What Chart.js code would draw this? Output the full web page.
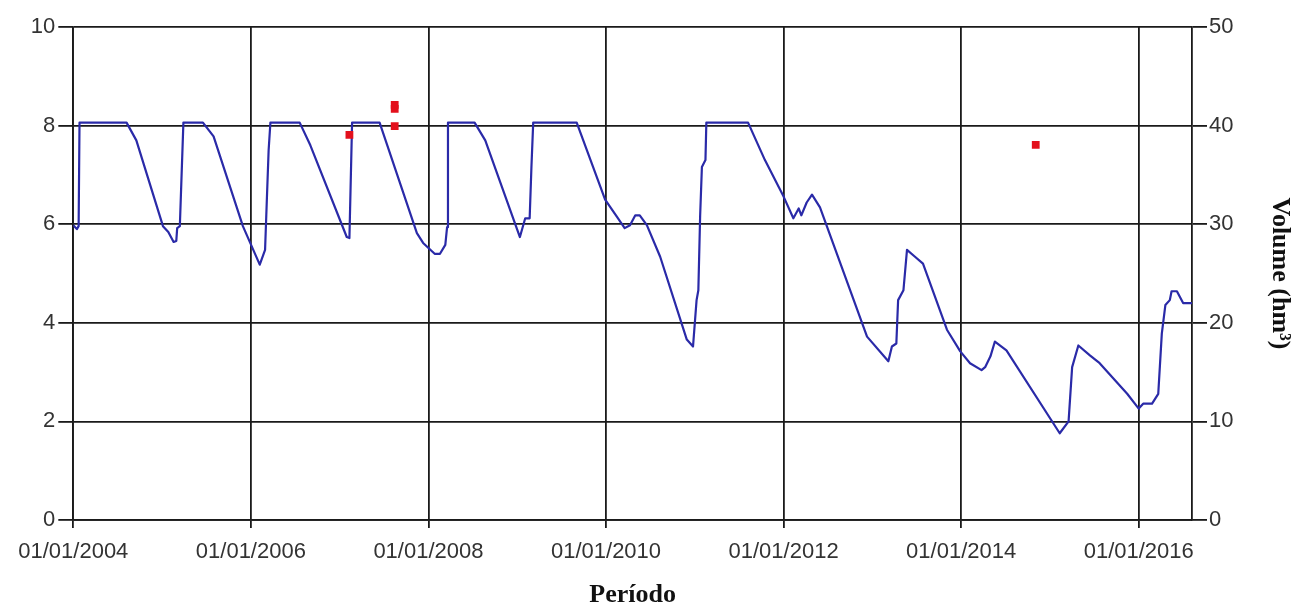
<!DOCTYPE html>
<html>
<head>
<meta charset="utf-8">
<script src="https://cdn.jsdelivr.net/npm/chart.js@4"></script>
<style>
  html, body { margin: 0; padding: 0; background: #fff; }
  #wrap { width: 1297px; height: 610px; }
</style>
</head>
<body>
<div id="wrap"><canvas id="grafico"></canvas></div>
<script>
// Período em anos decimais (2004.50 = meio de 2004)
var periodo = [
  2004.00, 2004.04, 2004.06, 2004.07, 2004.60, 2004.71, 2005.01, 2005.07, 2005.13, 2005.16,
  2005.17, 2005.20, 2005.24, 2005.46, 2005.58, 2005.91, 2006.10, 2006.16, 2006.18, 2006.20,
  2006.22, 2006.55, 2006.67, 2007.08, 2007.11, 2007.14, 2007.45, 2007.87, 2007.94, 2008.07,
  2008.13, 2008.19, 2008.21, 2008.22, 2008.52, 2008.64, 2009.03, 2009.09, 2009.14, 2009.16,
  2009.18, 2009.67, 2009.99, 2010.12, 2010.21, 2010.27, 2010.33, 2010.38, 2010.46, 2010.61,
  2010.91, 2010.98, 2011.02, 2011.04, 2011.06, 2011.08, 2011.12, 2011.13, 2011.60, 2011.79,
  2012.00, 2012.11, 2012.17, 2012.20, 2012.26, 2012.32, 2012.41, 2012.94, 2013.18, 2013.22,
  2013.27, 2013.29, 2013.35, 2013.39, 2013.48, 2013.57, 2013.84, 2013.99, 2014.10, 2014.23,
  2014.27, 2014.33, 2014.38, 2014.51, 2015.11, 2015.21, 2015.25, 2015.32, 2015.45, 2015.56,
  2015.87, 2016.00, 2016.05, 2016.15, 2016.22, 2016.26, 2016.30, 2016.35, 2016.37, 2016.43,
  2016.50, 2016.60
];

// Volume armazenado (hm³)
var volume = [
  29.9, 29.5, 29.8, 40.3, 40.3, 38.5, 29.8, 29.2, 28.2, 28.3,
  29.6, 29.8, 40.3, 40.3, 38.9, 29.8, 25.9, 27.4, 32.5, 37.5,
  40.3, 40.3, 38.0, 28.7, 28.6, 40.3, 40.3, 29.1, 28.1, 27.0,
  27.0, 27.9, 29.7, 40.3, 40.3, 38.5, 28.7, 30.6, 30.6, 35.8,
  40.3, 40.3, 32.5, 30.8, 29.6, 29.9, 30.9, 30.9, 29.9, 26.7,
  18.3, 17.6, 22.3, 23.3, 30.8, 35.8, 36.5, 40.3, 40.3, 36.5,
  32.8, 30.6, 31.6, 30.9, 32.2, 33.0, 31.7, 18.6, 16.1, 17.6,
  17.9, 22.3, 23.3, 27.4, 26.7, 26.0, 19.3, 17.1, 15.9, 15.2,
  15.5, 16.6, 18.1, 17.2, 8.8, 10.0, 15.5, 17.7, 16.7, 15.9,
  12.8, 11.3, 11.8, 11.8, 12.8, 18.9, 21.8, 22.3, 23.2, 23.2,
  22.0, 22.0
];

// Medições pontuais (eixo da esquerda)
var medidasPeriodo = [2007.11, 2007.62, 2007.62, 2007.62, 2014.84];
var medidasValor = [7.81, 8.42, 8.34, 7.99, 7.61];

var anosTicks = [2004, 2006, 2008, 2010, 2012, 2014, 2016];

var fonteTicks = { family: '"Liberation Sans", Arial, sans-serif', size: 22 };
var fonteTitulo = { family: '"Liberation Serif", "Times New Roman", serif', size: 26, weight: 'bold', lineHeight: 1.1 };
var corGrade = '#1a1a1a';

var serieVolume = periodo.map(function(p, i) { return { x: p, y: volume[i] }; });
var serieMedidas = medidasPeriodo.map(function(p, i) { return { x: p, y: medidasValor[i] }; });

var ctx = document.getElementById('grafico').getContext('2d');
new Chart(ctx, {
  type: 'line',
  data: {
    datasets: [
      {
        label: 'Medidas',
        data: serieMedidas,
        yAxisID: 'y',
        showLine: false,
        pointStyle: 'rect',
        pointRadius: 5.5,
        backgroundColor: '#e3101c',
        borderColor: '#e3101c',
        borderWidth: 0
      },
      {
        label: 'Volume',
        data: serieVolume,
        yAxisID: 'y1',
        borderColor: '#2a2aa8',
        borderWidth: 2.2,
        borderJoinStyle: 'round',
        pointRadius: 0,
        tension: 0,
        fill: false
      }
    ]
  },
  options: {
    responsive: true,
    maintainAspectRatio: false,
    animation: false,
    layout: { padding: { top: 27, left: 0, right: 0, bottom: 0 } },
    plugins: {
      legend: { display: false },
      tooltip: { enabled: false }
    },
    scales: {
      x: {
        type: 'linear',
        min: 2004,
        max: 2016.6,
        afterBuildTicks: function(scale) {
          scale.ticks = anosTicks.map(function(v) { return { value: v }; });
        },
        afterFit: function(scale) { scale.height = 90; },
        grid: { color: corGrade, lineWidth: 1.8, tickLength: 8, tickColor: corGrade },
        border: { color: corGrade, width: 1.8 },
        ticks: {
          font: fonteTicks,
          color: '#333',
          padding: 11,
          maxRotation: 0,
          callback: function(v) { return '01/01/' + v; }
        },
        title: {
          display: true,
          text: 'Período',
          font: fonteTitulo,
          color: '#111',
          padding: { top: 0, bottom: 0 }
        }
      },
      y: {
        position: 'left',
        min: 0,
        max: 10,
        afterFit: function(scale) { scale.width = 73.3; },
        grid: { color: corGrade, lineWidth: 1.8, tickLength: 15, tickColor: corGrade },
        border: { color: corGrade, width: 1.8 },
        ticks: { stepSize: 2, font: fonteTicks, color: '#333', padding: 3 }
      },
      y1: {
        position: 'right',
        min: 0,
        max: 50,
        afterFit: function(scale) { scale.width = 105; },
        grid: { drawOnChartArea: false, tickLength: 15, tickColor: corGrade, lineWidth: 1.8 },
        border: { color: corGrade, width: 1.8 },
        ticks: { stepSize: 10, font: fonteTicks, color: '#333', padding: 2 },
        title: {
          display: true,
          text: 'Volume (hm³)',
          font: { family: '"Liberation Serif", "Times New Roman", serif', size: 26, weight: 'bold', lineHeight: 1.2 },
          color: '#111',
          padding: { top: 2, bottom: 0 }
        }
      }
    }
  }
});
</script>
</body>
</html>
